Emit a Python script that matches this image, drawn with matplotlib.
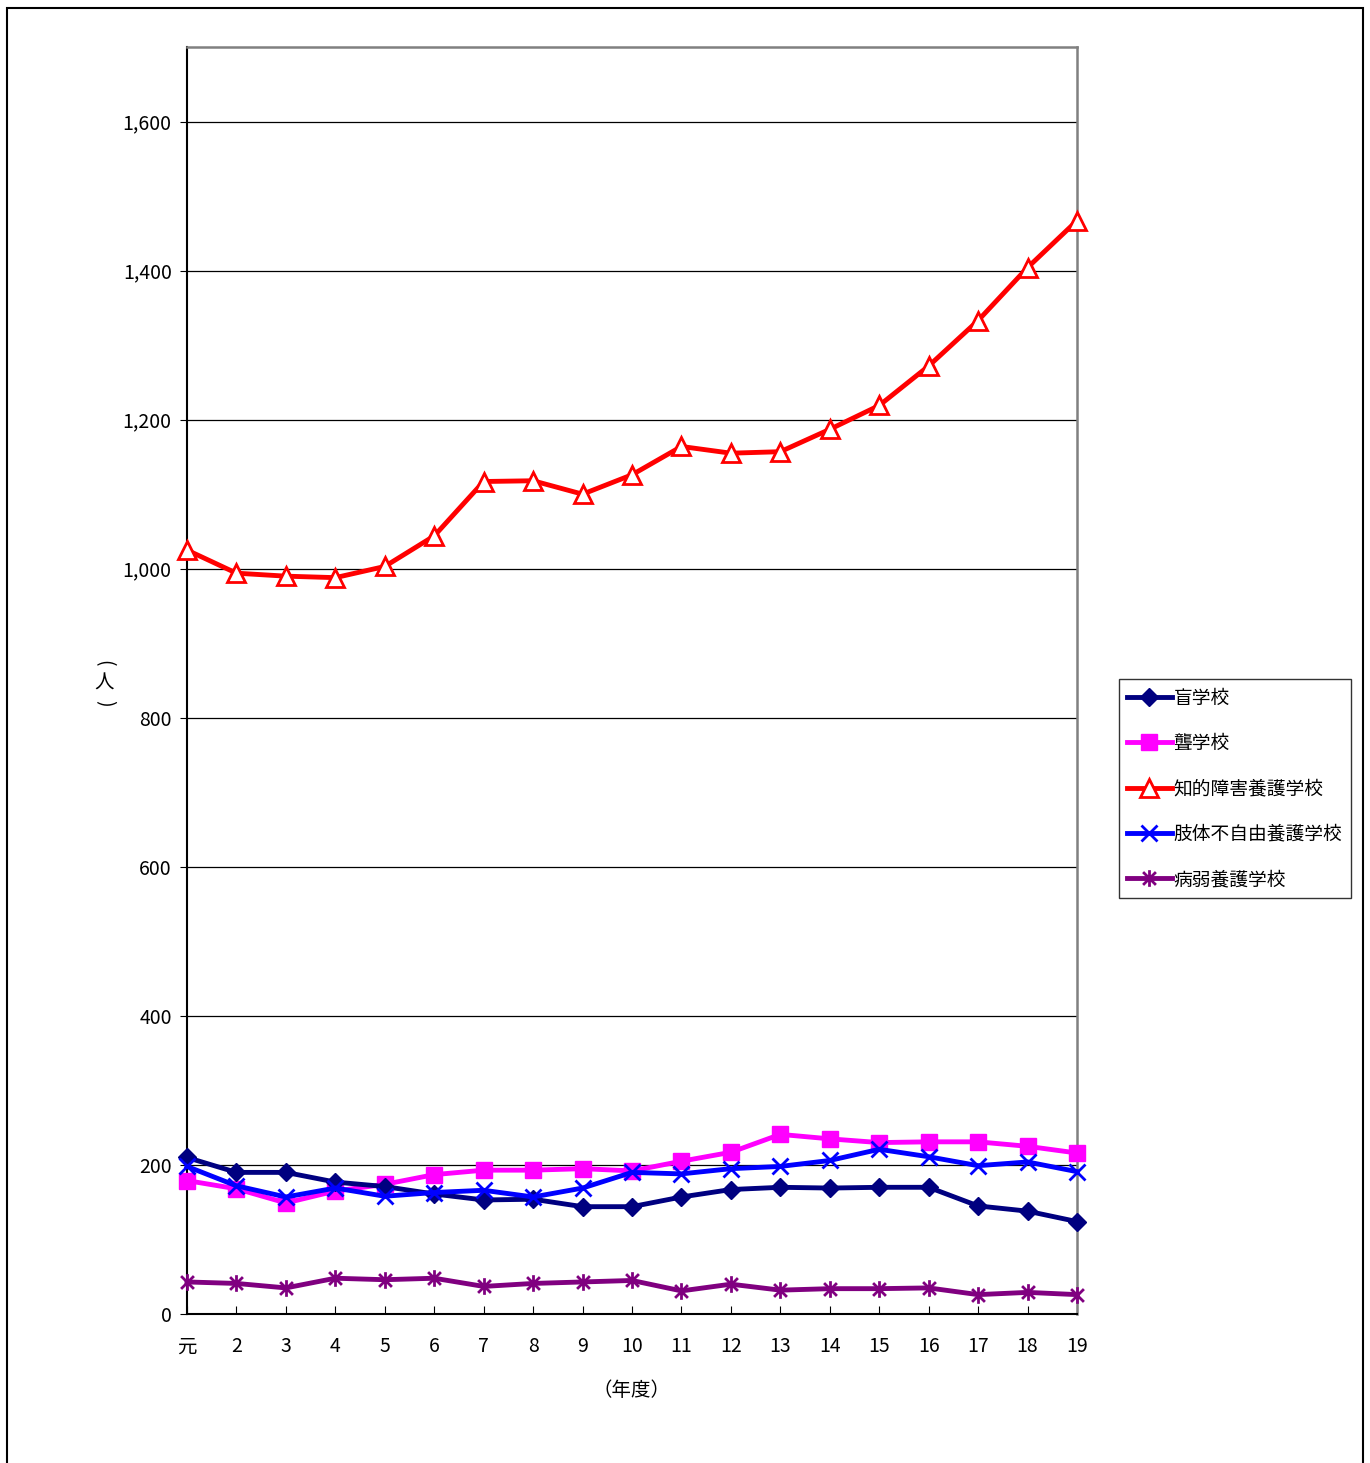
import matplotlib
matplotlib.use('Agg')
import matplotlib.pyplot as plt
import matplotlib.patches as mpatches
from matplotlib.path import Path
from matplotlib.ticker import FuncFormatter

plt.rcParams['font.family'] = ['Noto Sans CJK JP', 'DejaVu Sans']

years = ['元', '2', '3', '4', '5', '6', '7', '8', '9', '10',
         '11', '12', '13', '14', '15', '16', '17', '18', '19']

mou = [210, 190, 190, 177, 171, 161, 153, 154, 144, 144,
       157, 167, 170, 169, 170, 170, 145, 138, 124]
rou = [179, 168, 149, 165, 174, 187, 193, 193, 195, 192,
       205, 217, 241, 235, 230, 231, 231, 225, 216]
chiteki = [1025, 994, 990, 988, 1003, 1044, 1117, 1118, 1100, 1126,
           1164, 1155, 1157, 1187, 1219, 1272, 1333, 1404, 1467]
shitai = [198, 172, 157, 169, 158, 163, 166, 157, 169, 190,
          188, 195, 198, 206, 221, 211, 199, 204, 191]
byoujaku = [43, 41, 35, 48, 46, 48, 37, 41, 43, 45,
            31, 40, 32, 34, 34, 35, 26, 29, 26]

labels = ['盲学校', '聾学校', '知的障害養護学校', '肢体不自由養護学校', '病弱養護学校']

# excel-style asterisk: x plus a vertical bar
star = Path([(-1, -1), (1, 1), (-1, 1), (1, -1), (0, -1.3), (0, 1.3)],
            [Path.MOVETO, Path.LINETO, Path.MOVETO, Path.LINETO, Path.MOVETO, Path.LINETO])

fig = plt.figure(figsize=(13.7, 14.63), dpi=100)
ax = fig.add_axes([187/1370, 149/1463, 890/1370, 1267/1463])

x = list(range(len(years)))
ax.plot(x, mou, color='#000080', lw=3.5, marker='D', markersize=9, label=labels[0], clip_on=False, zorder=5)
ax.plot(x, rou, color='#FF00FF', lw=3.5, marker='s', markersize=11, label=labels[1], clip_on=False, zorder=4)
ax.plot(x, chiteki, color='#FF0000', lw=3.5, marker='^', markersize=13, markerfacecolor='white',
        markeredgewidth=2, label=labels[2], clip_on=False, zorder=5)
ax.plot(x, shitai, color='#0000FF', lw=3.5, marker='x', markersize=12, markeredgewidth=2,
        label=labels[3], clip_on=False, zorder=6)
ax.plot(x, byoujaku, color='#800080', lw=3.5, marker=star, markersize=12, markeredgewidth=2,
        label=labels[4], clip_on=False, zorder=5)

ax.set_xlim(0, 18)
ax.set_ylim(0, 1700)
ax.set_xticks(x)
ax.set_xticklabels(years, fontsize=14)
ax.set_yticks(range(0, 1601, 200))
ax.yaxis.set_major_formatter(FuncFormatter(lambda v, p: '{:,.0f}'.format(v)))
ax.tick_params(axis='y', labelsize=14, length=5, direction='out', pad=6)
ax.tick_params(axis='x', length=6, direction='in', pad=16)
ax.grid(axis='y', color='black', lw=0.9)
ax.set_axisbelow(True)

for s in ['left', 'bottom']:
    ax.spines[s].set_color('black')
    ax.spines[s].set_linewidth(1.5)
for s in ['top', 'right']:
    ax.spines[s].set_color('#808080')
    ax.spines[s].set_linewidth(1.8)

fig.text(632/1370, 1 - 1391/1463, '（年度）', ha='center', va='center', fontsize=14)
# vertical axis label, stacked
fig.text(104/1370, 1 - 663/1463, '(', ha='center', va='center', fontsize=14, rotation=-90)
fig.text(104/1370, 1 - 683/1463, '人', ha='center', va='center', fontsize=14)
fig.text(104/1370, 1 - 703/1463, ')', ha='center', va='center', fontsize=14, rotation=-90)

leg = fig.legend(loc='upper left', bbox_to_anchor=(1119/1370, 1 - 679/1463),
                 borderaxespad=0, fontsize=13.5, frameon=True, fancybox=False,
                 edgecolor='black', labelspacing=1.3, handlelength=2.35,
                 handletextpad=0.1, borderpad=0.45)
leg.get_frame().set_linewidth(1.0)

# outer chart frame
fig.patches.append(mpatches.Rectangle((7/1370, -0.01), 1356/1370, 1 - 8/1463 + 0.01,
                                      transform=fig.transFigure, fill=False,
                                      edgecolor='black', lw=1.5))

fig.savefig('out.png', dpi=100)
